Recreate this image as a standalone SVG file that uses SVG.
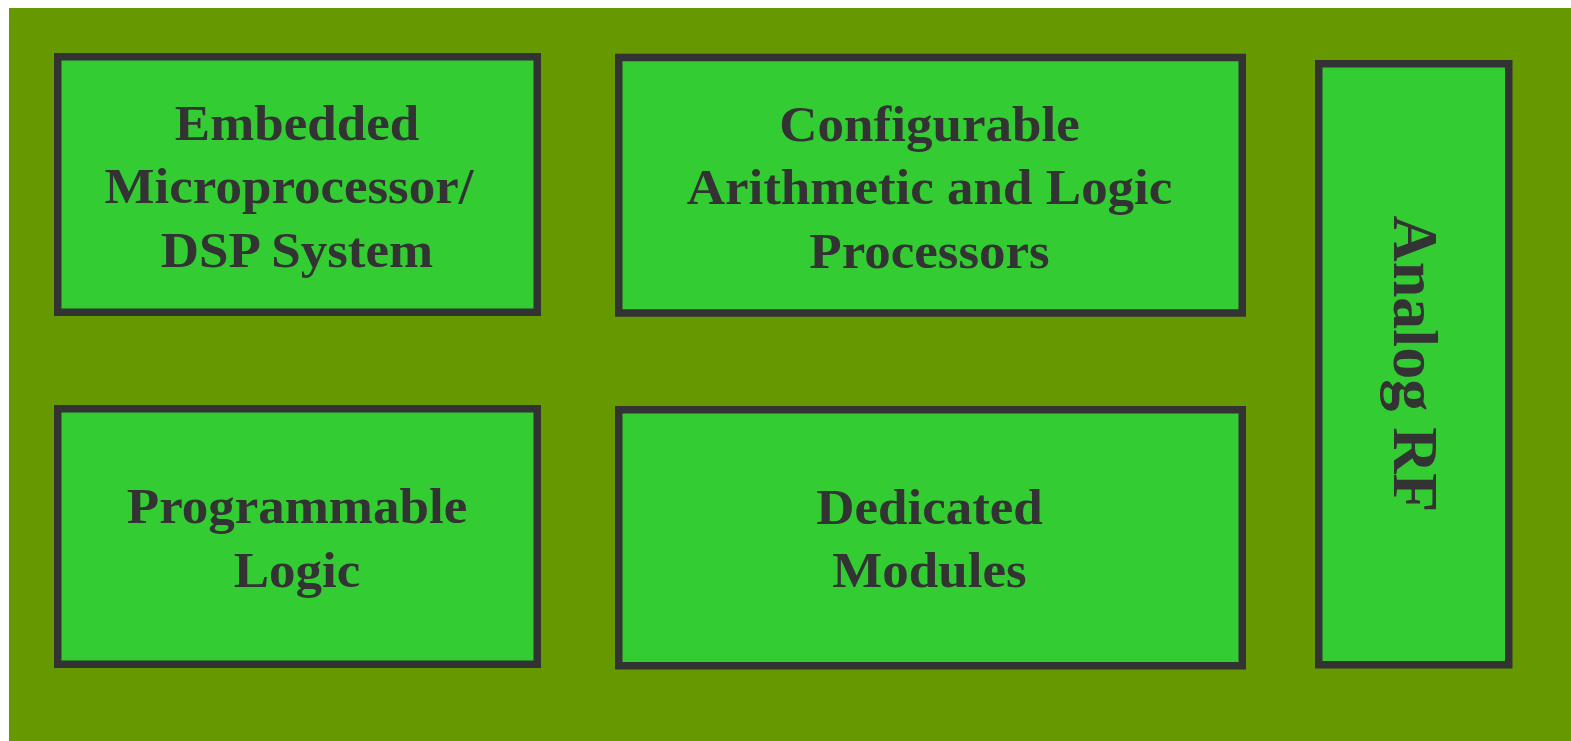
<svg xmlns="http://www.w3.org/2000/svg" width="1571" height="741" viewBox="0 0 1571 741">
<style>
.box{fill:#33cc33;stroke:#333333;stroke-width:7.5}
.t{font-family:"Liberation Serif","Times New Roman",serif;font-weight:bold;font-size:50px;fill:#333333;text-anchor:middle}
</style>
<rect x="0" y="0" width="1571" height="741" fill="#ffffff"/>
<rect x="9" y="8" width="1562" height="733" fill="#669900"/>
<g id="embedded">
<rect class="box" x="57.75" y="56.75" width="479.5" height="255.5"/>
<g transform="translate(297,0) scale(1.06,1)">
<text class="t" x="0" y="140">Embedded</text>
<text class="t" x="-7.5" y="203.3">Microprocessor/</text>
<text class="t" x="0" y="266.7">DSP System</text>
</g>
</g>
<g id="configurable">
<rect class="box" x="618.75" y="57.5" width="623.5" height="255.5"/>
<g transform="translate(929.5,0) scale(1.06,1)">
<text class="t" x="0" y="140.7">Configurable</text>
<text class="t" x="0" y="204.3">Arithmetic and Logic</text>
<text class="t" x="0" y="268.3">Processors</text>
</g>
</g>
<g id="programmable">
<rect class="box" x="57.75" y="408.75" width="479.5" height="255.5"/>
<g transform="translate(297,0) scale(1.06,1)">
<text class="t" x="0" y="523.3">Programmable</text>
<text class="t" x="0" y="586.7">Logic</text>
</g>
</g>
<g id="dedicated">
<rect class="box" x="618.75" y="409.75" width="623.5" height="256"/>
<g transform="translate(929.5,0) scale(1.06,1)">
<text class="t" x="0" y="524">Dedicated</text>
<text class="t" x="0" y="587">Modules</text>
</g>
</g>
<g id="analog">
<rect class="box" x="1318.75" y="63.75" width="190" height="601"/>
<text class="t" style="font-size:64px" transform="translate(1393.5,364) rotate(90)" x="0" y="0">Analog RF</text>
</g>
<g id="connectors"></g>
</svg>
